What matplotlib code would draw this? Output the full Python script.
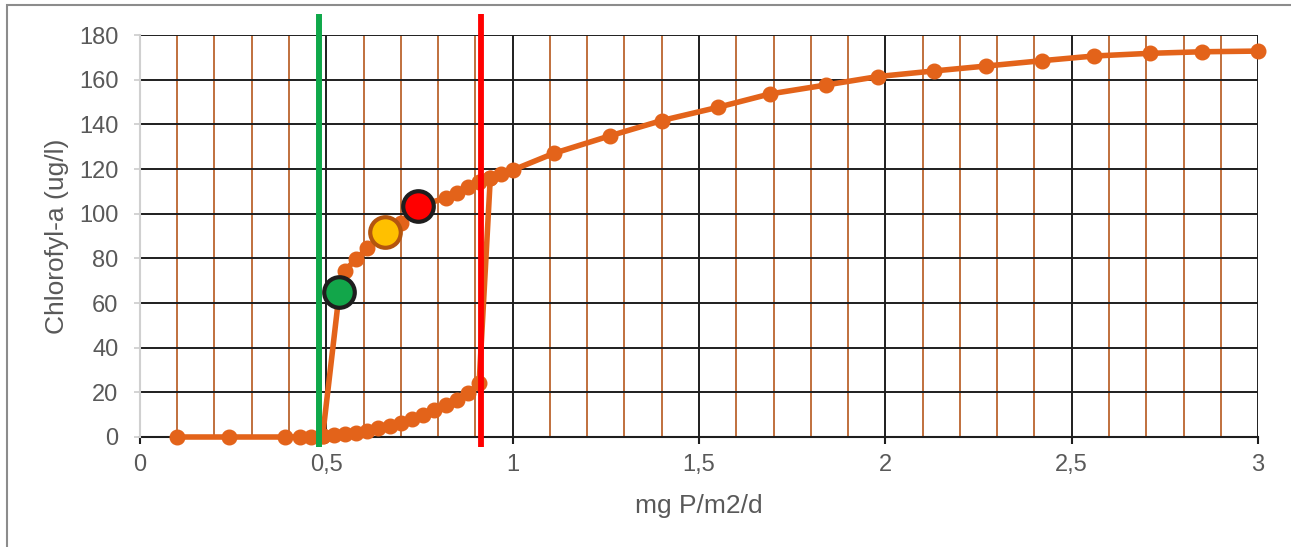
import matplotlib
matplotlib.use("Agg")
import matplotlib.pyplot as plt
from matplotlib.patches import Rectangle
from matplotlib.ticker import MultipleLocator

plt.rcParams['font.family'] = ['Liberation Sans', 'DejaVu Sans']

# lower branch (clear water state), x in mg P/m2/d, y chlorophyll-a ug/l
lower_x = [0.10, 0.24, 0.39, 0.43, 0.46, 0.49, 0.52, 0.55, 0.58, 0.61, 0.64,
           0.67, 0.70, 0.73, 0.76, 0.79, 0.82, 0.85, 0.88, 0.91]
lower_y = [0, 0, 0, 0, 0, 0.3, 1.0, 1.4, 2.0, 2.9, 3.9,
           5.0, 6.2, 8.0, 9.9, 12.0, 14.4, 16.6, 19.6, 24.0]

# upper branch (turbid state)
upper_x = [0.535, 0.55, 0.58, 0.61, 0.66, 0.70, 0.75, 0.82, 0.85, 0.88, 0.91,
           0.94, 0.97, 1.00, 1.11, 1.26, 1.40, 1.55, 1.69, 1.84, 1.98, 2.13,
           2.27, 2.42, 2.56, 2.71, 2.85, 3.00]
upper_y = [65, 74.5, 79.7, 84.5, 92, 96, 103.5, 107, 109.4, 111.8, 114.3,
           116, 117.8, 119.5, 127, 134.8, 141.7, 147.6, 153.6, 157.6, 161.4, 163.9,
           166.1, 168.5, 170.6, 171.8, 172.5, 172.8]

# critical loads
crit_low = 0.481
crit_high = 0.915

# highlighted states
state_x = [0.535, 0.657, 0.747]
state_y = [65, 92, 103.5]
state_fill = ['#12a64a', '#ffc000', '#ff0000']
state_edge = ['#1e1e1e', '#b4550e', '#1e1e1e']

x_ticks = [0, 0.5, 1, 1.5, 2, 2.5, 3]
x_tick_labels = ['0', '0,5', '1', '1,5', '2', '2,5', '3']
y_ticks = list(range(0, 181, 20))

orange = '#e3631a'
grid_brown = '#b5571c'
text_grey = '#595959'

fig = plt.figure(figsize=(12.91, 5.47), dpi=100)
ax = fig.add_axes([0.1084, 0.2011, 0.8661, 0.7349])

# forward path: lower branch, jump up at high critical load, on to 3
jump = upper_x.index(0.94)
ax.plot(lower_x + upper_x[jump:], lower_y + upper_y[jump:], color=orange,
        lw=4, marker='o', ms=10.5, zorder=3, solid_joinstyle='round',
        clip_on=False)
# backward path: collapse to lower branch at low critical load
i0 = lower_x.index(0.49)
ax.plot([lower_x[i0]] + upper_x[:jump + 1], [lower_y[i0]] + upper_y[:jump + 1],
        color=orange, lw=4, marker='o', ms=10.5, zorder=3, solid_joinstyle='round',
        clip_on=False)

ax.plot([crit_low, crit_low], [-4.5, 189.5], color='#0fa84a', lw=4.3,
        zorder=4, clip_on=False, solid_capstyle='butt')
ax.plot([crit_high, crit_high], [-4.5, 189.5], color='#ff0000', lw=4.2,
        zorder=4, clip_on=False, solid_capstyle='butt')

for sx, sy, fc, ec in zip(state_x, state_y, state_fill, state_edge):
    ax.plot(sx, sy, 'o', ms=22, mfc=fc, mec=ec, mew=3, zorder=5)

ax.set_xlim(0, 3)
ax.set_ylim(0, 180)
ax.set_xticks(x_ticks)
ax.set_xticklabels(x_tick_labels)
ax.set_yticks(y_ticks)
ax.xaxis.set_minor_locator(MultipleLocator(0.1))

ax.set_axisbelow(True)
ax.grid(which='major', color='#1e1e1e', lw=1.4)
ax.grid(which='minor', axis='x', color=grid_brown, lw=1.2)
ax.grid(which='minor', axis='y', visible=False)

for s in ['top', 'right']:
    ax.spines[s].set_visible(False)
ax.spines['left'].set_color('#d0d0d0')
ax.spines['left'].set_linewidth(1.5)
ax.spines['left'].set_zorder(2.6)
ax.spines['bottom'].set_color('#1e1e1e')
ax.spines['bottom'].set_linewidth(1.5)

ax.tick_params(axis='x', which='major', length=5, width=1.5, color='#1e1e1e',
               labelsize=17, labelcolor=text_grey, pad=7.5)
ax.tick_params(axis='x', which='minor', length=0)
ax.tick_params(axis='y', length=4.5, width=1.3, color='#d0d0d0',
               labelsize=17, labelcolor=text_grey, pad=11)

ax.set_xlabel('mg P/m2/d', fontsize=19, color=text_grey, labelpad=13)
ax.set_ylabel('Chlorofyl-a (ug/l)', fontsize=19, color=text_grey, labelpad=7)

fig.patches.append(Rectangle((7 / 1291, -0.1), 1.2, 1.1 - 5 / 547,
                             transform=fig.transFigure, fill=False,
                             edgecolor='#8c8c8c', lw=1.5))

fig.savefig('out.png', dpi=100)
